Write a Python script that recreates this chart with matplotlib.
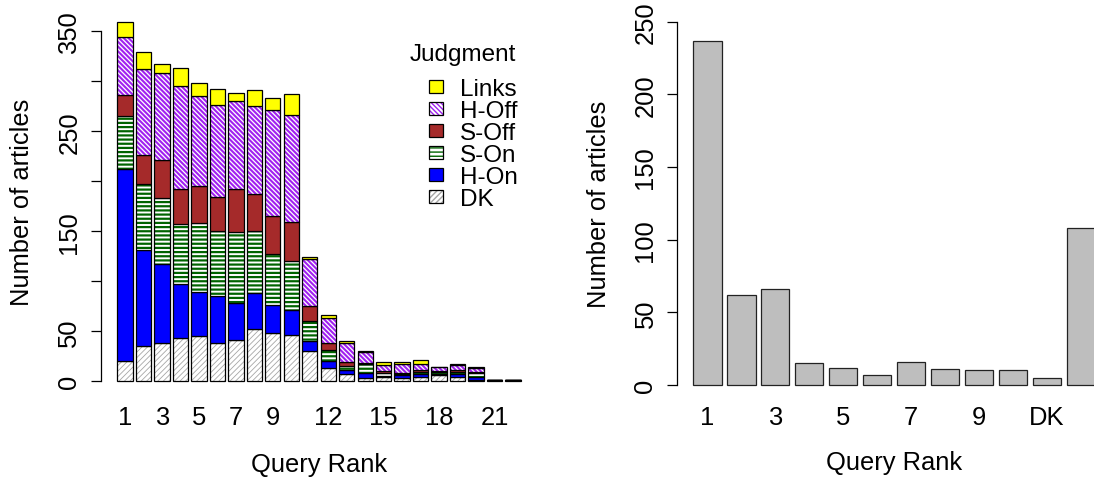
import matplotlib
matplotlib.use("Agg")
import matplotlib.pyplot as plt
from matplotlib.patches import Patch

plt.rcParams['font.family'] = ['Liberation Sans', 'DejaVu Sans']

# left panel: judgments per query rank (stacked, bottom to top)
ranks = [str(i) for i in range(1, 23)]
dk    = [20, 35, 38, 43, 45, 38, 41, 52, 48, 46, 30, 13, 7, 3, 4, 3, 4, 6, 4, 1, 1, 1]
h_on  = [192, 96, 79, 54, 44, 47, 37, 36, 28, 25, 10, 7, 4, 5, 1, 3, 3, 1, 3, 3, 0, 0]
s_on  = [53, 66, 66, 60, 69, 65, 71, 62, 51, 49, 20, 11, 4, 9, 3, 1, 2, 2, 2, 4, 0, 0]
s_off = [21, 29, 38, 35, 37, 34, 43, 37, 38, 39, 15, 7, 4, 1, 2, 1, 2, 1, 2, 1, 0, 0]
h_off = [58, 86, 87, 103, 90, 92, 88, 88, 106, 107, 47, 25, 19, 11, 6, 9, 6, 4, 5, 4, 0, 0]
links = [15, 17, 9, 18, 13, 16, 8, 16, 12, 21, 2, 3, 2, 1, 3, 2, 4, 0, 1, 1, 0, 0]
left_ticklabels = ['1', '3', '5', '7', '9', '12', '15', '18', '21']

# right panel: rank of first relevant article
first_rank = ['1', '2', '3', '4', '5', '6', '7', '8', '9', '10', 'DK', 'None']
first_count = [237, 62, 66, 15, 12, 7, 16, 11, 10, 10, 5, 108]

# name, values, fill colour, hatch, hatch colour, hatch width
series = [
    ('DK', dk, 'white', '//////', '#a6a6a6', 0.6),
    ('H-On', h_on, '#0000FF', None, None, 0),
    ('S-On', s_on, 'white', '----', '#006400', 1.6),
    ('S-Off', s_off, '#A52A2A', None, None, 0),
    ('H-Off', h_off, 'white', '\\\\\\\\\\\\\\', '#A020F0', 1.5),
    ('Links', links, '#FFFF00', None, None, 0),
]

W, H = 1094, 481
fig = plt.figure(figsize=(W / 100, H / 100), dpi=100)

def px_axes(x0, x1, ytop, ybot):
    return fig.add_axes([x0 / W, 1 - ybot / H, (x1 - x0) / W, (ybot - ytop) / H])

FS = 18.4
LEG_FS = 17.5
edge_lw = 0.9

# ---------------- left panel ----------------
ax1 = px_axes(101.1, 536.9, 7.9, 396.7)
xpos = [0.7 + 1.2 * i for i in range(len(ranks))]
bottom = [0] * len(ranks)
handles = {}
for name, vals, fc, hatch, hc, hlw in series:
    if hatch:
        with plt.rc_context({'hatch.linewidth': hlw}):
            ax1.bar(xpos, vals, width=1, bottom=bottom, color='white',
                    edgecolor=hc, hatch=hatch, linewidth=0)
        ax1.bar(xpos, vals, width=1, bottom=bottom, fill=False,
                edgecolor='black', linewidth=edge_lw)
        with plt.rc_context({'hatch.linewidth': hlw}):
            h1 = Patch(facecolor='white', edgecolor=hc, hatch=hatch, linewidth=0)
        handles[name] = (h1, Patch(fill=False, edgecolor='black', linewidth=edge_lw))
    else:
        ax1.bar(xpos, vals, width=1, bottom=bottom, color=fc,
                edgecolor='black', linewidth=edge_lw)
        handles[name] = Patch(facecolor=fc, edgecolor='black', linewidth=edge_lw)
    bottom = [b + v for b, v in zip(bottom, vals)]

ax1.set_xlim(-0.848, 27.448)
ax1.set_ylim(-14.4, 374.4)
ax1.set_yticks(range(0, 351, 50))
ax1.set_yticklabels(['0', '50', '', '150', '', '250', '', '350'])
ax1.set_xticks([xpos[ranks.index(t)] for t in left_ticklabels])
ax1.set_xticklabels(left_ticklabels)
ax1.tick_params(axis='x', length=0, pad=7, labelsize=FS)
ax1.tick_params(axis='y', length=7.2, width=0.9, pad=7, labelsize=FS)
for lab in ax1.get_yticklabels():
    lab.set_rotation(90)
    lab.set_va('center')
for s in ['top', 'right', 'bottom']:
    ax1.spines[s].set_visible(False)
ax1.spines['left'].set_bounds(0, 350)
ax1.spines['left'].set_linewidth(0.9)
ax1.set_xlabel('Query Rank', fontsize=FS)
ax1.xaxis.set_label_coords(0.5, (396.7 - 465) / 388.8)
ax1.xaxis.label.set_va('center')
ax1.set_ylabel('Number of articles', fontsize=FS)
ax1.yaxis.set_label_coords((22 - 101.1) / 435.8, 0.5)
ax1.yaxis.label.set_va('center')

order = ['Links', 'H-Off', 'S-Off', 'S-On', 'H-On', 'DK']
leg = ax1.legend([handles[n] for n in order], order,
                 loc='upper center', bbox_to_anchor=(473.5 / W, 1 - 67 / H),
                 bbox_transform=fig.transFigure, frameon=False, fontsize=LEG_FS,
                 handlelength=0.6, handleheight=0.4,
                 handletextpad=0.7, labelspacing=0.0, borderpad=0)
fig.text(463 / W, 1 - 55 / H, 'Judgment', fontsize=LEG_FS,
         ha='center', va='center')

# ---------------- right panel ----------------
ax2 = px_axes(677.2, 1111.2, 8.2, 400.5)
xpos2 = [0.7 + 1.2 * i for i in range(len(first_rank))]
ax2.bar(xpos2, first_count, width=1, color='#BEBEBE', edgecolor='#222222',
        linewidth=edge_lw)
ax2.set_xlim(-0.368, 14.968)
ax2.set_ylim(-10, 260)
ax2.set_yticks(range(0, 251, 50))
ax2.set_xticks(xpos2[::2])
ax2.set_xticklabels(first_rank[::2])
ax2.tick_params(axis='x', length=0, pad=4, labelsize=FS)
ax2.tick_params(axis='y', length=7.2, width=0.9, pad=7, labelsize=FS)
for lab in ax2.get_yticklabels():
    lab.set_rotation(90)
    lab.set_va('center')
for s in ['top', 'right', 'bottom']:
    ax2.spines[s].set_visible(False)
ax2.spines['left'].set_bounds(0, 250)
ax2.spines['left'].set_linewidth(0.9)
ax2.set_xlabel('Query Rank', fontsize=FS)
ax2.xaxis.set_label_coords(0.5, (400.5 - 463) / 392.3)
ax2.xaxis.label.set_va('center')
ax2.set_ylabel('Number of articles', fontsize=FS)
ax2.yaxis.set_label_coords((599 - 677.2) / 434.0, 0.5)
ax2.yaxis.label.set_va('center')

fig.savefig('out.png', dpi=100)
